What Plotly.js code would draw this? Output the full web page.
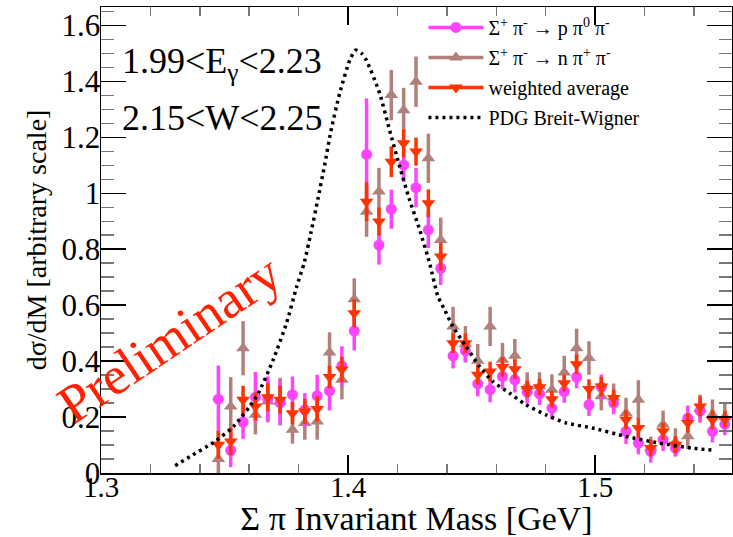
<!DOCTYPE html>
<html>
<head>
<meta charset="utf-8">
<script src="https://cdn.plot.ly/plotly-3.0.1.min.js"></script>
<style>html,body{margin:0;padding:0;background:#fff;}#chart{width:733px;height:537px;}</style>
</head>
<body>
<div id="chart"></div>
<script>
// Bin centres (GeV)
const massBins = [1.3475,1.3525,1.3575,1.3625,1.3675,1.3725,1.3775,1.3825,1.3875,1.3925,
  1.3975,1.4025,1.4075,1.4125,1.4175,1.4225,1.4275,1.4325,1.4375,1.4425,
  1.4475,1.4525,1.4575,1.4625,1.4675,1.4725,1.4775,1.4825,1.4875,1.4925,
  1.4975,1.5025,1.5075,1.5125,1.5175,1.5225,1.5275,1.5325,1.5375,1.5425,
  1.5475,1.5525];

// Σ+π- → p π0 π-
const pPi0Y = [0.264,0.081,0.182,0.271,0.265,0.252,0.280,0.226,0.276,0.294,
  0.383,0.508,1.139,0.815,0.943,1.101,1.020,0.869,0.732,0.419,
  0.437,0.319,0.298,0.345,0.333,0.289,0.283,0.232,0.291,0.343,
  0.244,0.307,0.250,0.149,0.107,0.077,0.119,0.089,0.196,0.222,
  0.149,0.175];
const pPi0Err = [0.12,0.06,0.06,0.09,0.08,0.08,0.065,0.06,0.075,0.07,
  0.07,0.07,0.20,0.07,0.07,0.06,0.07,0.065,0.06,0.045,
  0.04,0.045,0.045,0.045,0.045,0.04,0.04,0.04,0.04,0.04,
  0.04,0.045,0.04,0.045,0.04,0.04,0.04,0.03,0.045,0.04,
  0.04,0.04];

// Σ+π- → n π+ π-
const nPipY = [0.050,0.238,0.446,0.208,0.256,0.255,0.155,0.179,0.184,0.431,
  0.333,0.621,0.934,1.006,1.351,1.297,1.399,1.125,0.833,0.524,
  0.460,0.401,0.524,0.405,0.419,0.310,0.310,0.298,0.359,0.446,
  0.411,0.274,0.270,0.214,0.262,0.090,0.173,0.110,0.131,0.230,
  0.208,0.200];
const nPipErr = [0.095,0.105,0.097,0.07,0.075,0.085,0.05,0.06,0.065,0.072,
  0.07,0.075,0.09,0.085,0.09,0.08,0.09,0.088,0.08,0.07,
  0.065,0.06,0.07,0.06,0.06,0.05,0.05,0.055,0.06,0.07,
  0.06,0.05,0.05,0.055,0.07,0.04,0.05,0.05,0.045,0.05,
  0.055,0.05];

// weighted average
const avgY = [0.101,0.113,0.262,0.238,0.271,0.262,0.214,0.220,0.229,0.343,
  0.370,0.571,0.970,0.899,1.113,1.179,1.149,0.964,0.774,0.464,
  0.464,0.351,0.363,0.379,0.371,0.300,0.307,0.264,0.321,0.389,
  0.300,0.309,0.268,0.190,0.161,0.089,0.149,0.101,0.179,0.238,
  0.190,0.193];
const avgErr = [0.05,0.05,0.05,0.05,0.05,0.05,0.04,0.045,0.045,0.04,
  0.045,0.05,0.07,0.05,0.055,0.05,0.05,0.05,0.05,0.035,
  0.035,0.035,0.035,0.035,0.035,0.03,0.03,0.03,0.03,0.035,
  0.035,0.035,0.03,0.035,0.035,0.03,0.03,0.03,0.035,0.035,
  0.035,0.03];

// PDG Breit-Wigner curve
const bwX = [1.3300,1.3361,1.3455,1.3536,1.3630,1.3697,1.3751,1.3792,1.3822,1.3850,
  1.3878,1.3905,1.3930,1.3966,1.4007,1.4030,1.4055,1.4074,1.4128,1.4168,
  1.4209,1.4249,1.4290,1.4330,1.4364,1.4391,1.4424,1.4478,1.4532,1.4586,
  1.4653,1.4720,1.4801,1.4882,1.4989,1.5124,1.5259,1.5393,1.5481];
const bwY = [0.026,0.059,0.109,0.166,0.274,0.405,0.536,0.666,0.750,0.860,
  0.980,1.100,1.220,1.357,1.476,1.512,1.500,1.476,1.357,1.226,
  1.095,0.976,0.869,0.750,0.631,0.583,0.524,0.452,0.381,0.327,
  0.286,0.244,0.208,0.179,0.161,0.131,0.107,0.089,0.081];

const legendLabels = [
  "Σ<sup>+</sup> π<sup>-</sup> → p π<sup>0</sup> π<sup>-</sup>",
  "Σ<sup>+</sup> π<sup>-</sup> → n π<sup>+</sup> π<sup>-</sup>",
  "weighted average",
  "PDG Breit-Wigner"
];

const cMag = "#ff44ff", cBrown = "#b0807a", cRed = "#ff3300";
const serif = "Liberation Serif, Times New Roman, serif";

function errTrace(x, y, e, color, symbol, size) {
  return {
    x: x, y: y, type: "scatter", mode: "markers", showlegend: false,
    marker: {color: color, symbol: symbol, size: size, line: {width: 0}},
    error_y: {type: "data", array: e, visible: true, color: color, thickness: 3.5, width: 0},
    hoverinfo: "x+y"
  };
}

const traces = [
  errTrace(massBins, nPipY, nPipErr, cBrown, "triangle-up", 12),
  errTrace(massBins, pPi0Y, pPi0Err, cMag, "circle", 11),
  errTrace(massBins, avgY, avgErr, cRed, "triangle-down", 12),
  {x: bwX, y: bwY, type: "scatter", mode: "lines", showlegend: false,
   line: {color: "#000", width: 3.5, dash: "3px,4px", shape: "spline", smoothing: 0.6}},
  // legend entries
  {x: [null], y: [null], type: "scatter", mode: "lines+markers", name: legendLabels[0], legendgroup: "a",
   line: {color: cMag, width: 3.5}, marker: {color: cMag, symbol: "circle", size: 11}},
  {x: [null], y: [null], type: "scatter", mode: "lines+markers", name: legendLabels[1], legendgroup: "b",
   line: {color: cBrown, width: 3.5}, marker: {color: cBrown, symbol: "triangle-up", size: 12}},
  {x: [null], y: [null], type: "scatter", mode: "lines+markers", name: legendLabels[2], legendgroup: "c",
   line: {color: cRed, width: 3.5}, marker: {color: cRed, symbol: "triangle-down", size: 12}},
  {x: [null], y: [null], type: "scatter", mode: "lines", name: legendLabels[3], legendgroup: "d",
   line: {color: "#000", width: 3.5, dash: "3px,4px"}}
];

const layout = {
  width: 733, height: 537,
  margin: {l: 101, r: 1, t: 7, b: 64, pad: 0},
  paper_bgcolor: "#fff", plot_bgcolor: "#fff",
  font: {family: serif, color: "#000"},
  showlegend: true,
  legend: {x: 0.511, xanchor: "left", y: 0.998, yanchor: "top",
    bgcolor: "rgba(0,0,0,0)", borderwidth: 0, font: {family: serif, size: 20},
    traceorder: "grouped", tracegroupgap: 1, itemwidth: 55},
  xaxis: {
    range: [1.3, 1.5554], showgrid: false, zeroline: false,
    showline: true, linecolor: "#000", linewidth: 1.5, mirror: "allticks",
    ticks: "inside", ticklen: 18, tickwidth: 1.5, tickcolor: "#000",
    tickvals: [1.3, 1.4, 1.5], ticktext: ["1.3", "1.4", "1.5"],
    minor: {dtick: 0.02, tick0: 1.3, ticks: "inside", ticklen: 9, tickcolor: "#777", tickwidth: 1.5},
    tickfont: {family: serif, size: 29}, ticklabelstandoff: -12,
    title: {text: "Σ π Invariant Mass [GeV]", font: {family: serif, size: 34}, standoff: 9}
  },
  yaxis: {
    range: [0, 1.666], showgrid: false, zeroline: false,
    showline: true, linecolor: "#000", linewidth: 1.5, mirror: "allticks",
    ticks: "inside", ticklen: 25, tickwidth: 1.5, tickcolor: "#000",
    tickvals: [0, 0.2, 0.4, 0.6, 0.8, 1, 1.2, 1.4, 1.6],
    ticktext: ["0", "0.2", "0.4", "0.6", "0.8", "1", "1.2", "1.4", "1.6"],
    minor: {dtick: 0.05, tick0: 0, ticks: "inside", ticklen: 13, tickcolor: "#777", tickwidth: 1.5},
    tickfont: {family: serif, size: 31}, ticklabelstandoff: -7,
    title: {text: "dσ/dM [arbitrary scale]", font: {family: serif, size: 28}, standoff: 6}
  },
  annotations: [
    {xref: "paper", yref: "paper", x: 0.03, y: 0.879, xanchor: "left", yanchor: "middle",
     text: "1.99<E<sub>γ</sub><2.23", showarrow: false, font: {family: serif, size: 36}},
    {xref: "paper", yref: "paper", x: 0.03, y: 0.761, xanchor: "left", yanchor: "middle",
     text: "2.15<W<2.25", showarrow: false, font: {family: serif, size: 36}},
    {xref: "paper", yref: "paper", x: 0.108, y: 0.287, xanchor: "center", yanchor: "middle",
     text: "Preliminary", textangle: -34, showarrow: false, font: {family: serif, size: 54, color: "#ff2200"}}
  ]
};

Plotly.newPlot("chart", traces, layout, {displayModeBar: false, staticPlot: true});
</script>
</body>
</html>
